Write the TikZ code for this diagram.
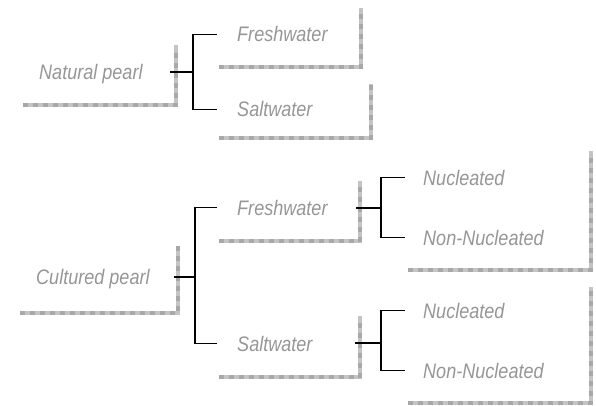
\documentclass[tikz,border=0pt]{standalone}
\usepackage{fontspec}
\newfontfamily\pearlfont[FakeStretch=0.86]{Liberation Sans}
\usetikzlibrary{positioning, calc}
\definecolor{shelfgray}{RGB}{196,196,196}
\definecolor{tickgray}{RGB}{168,168,168}
\definecolor{labelgray}{RGB}{150,150,150}

\begin{document}
\begin{tikzpicture}[x=1pt, y=-1pt,
    labelnode/.style={anchor=base west, inner sep=0pt, text=labelgray, font=\pearlfont\itshape\fontsize{21}{24}\selectfont},
    shelf/.style={draw=shelfgray, line width=4pt, line cap=rect, postaction={draw=tickgray, line width=4pt, dash pattern=on 0.6pt off 9.4pt}},
    branch/.style={draw=black, line width=1.6pt}
]
\useasboundingbox (0,0) rectangle (596,406);

% labels
\node[labelnode](natural) at (39,80){Natural pearl};
\node[labelnode](freshA) at (237,42){Freshwater};
\node[labelnode](saltA) at (237,117){Saltwater};
\node[labelnode](cultured) at (36,284){Cultured pearl};
\node[labelnode](freshB) at (237,215){Freshwater};
\node[labelnode](saltB) at (237,351){Saltwater};
\node[labelnode](nucA) at (423,185){Nucleated};
\node[labelnode](nonA) at (423,245){Non-Nucleated};
\node[labelnode](nucB) at (423,318){Nucleated};
\node[labelnode](nonB) at (423,378){Non-Nucleated};

% shelves
\draw[shelf] (25,105) -- (176,105) -- (176,47);
\draw[shelf] (221,67) -- (361,67) -- (361,10);
\draw[shelf] (221,138) -- (371,138) -- (371,86);
\draw[shelf] (22,313) -- (178,313) -- (178,248);
\draw[shelf] (221,241) -- (360,241) -- (360,183);
\draw[shelf] (221,377) -- (360,377) -- (360,318);
\draw[shelf] (410,270) -- (591,270) -- (591,153);
\draw[shelf] (410,403) -- (591,403) -- (591,289);

% branches
\coordinate (natural-out) at (170,72);
\coordinate (cultured-out) at (174,277);
\coordinate (freshB-out) at (356,208);
\coordinate (saltB-out) at (355,343);

\draw[branch] (natural-out) -- ++(23,0) coordinate (natural-fork);
\draw[branch, shorten >=20pt] (natural-fork) |- (freshA.west);
\draw[branch, shorten >=20pt] (natural-fork) |- (saltA.west);

\draw[branch] (cultured-out) -- ++(21,0) coordinate (cultured-fork);
\draw[branch, shorten >=20pt] (cultured-fork) |- (freshB.west);
\draw[branch, shorten >=20pt] (cultured-fork) |- (saltB.west);

\draw[branch] (freshB-out) -- ++(25,0) coordinate (freshB-fork);
\draw[branch, shorten >=18pt] (freshB-fork) |- (nucA.west);
\draw[branch, shorten >=18pt] (freshB-fork) |- (nonA.west);

\draw[branch] (saltB-out) -- ++(26,0) coordinate (saltB-fork);
\draw[branch, shorten >=18pt] (saltB-fork) |- (nucB.west);
\draw[branch, shorten >=18pt] (saltB-fork) |- (nonB.west);
\end{tikzpicture}
\end{document}
